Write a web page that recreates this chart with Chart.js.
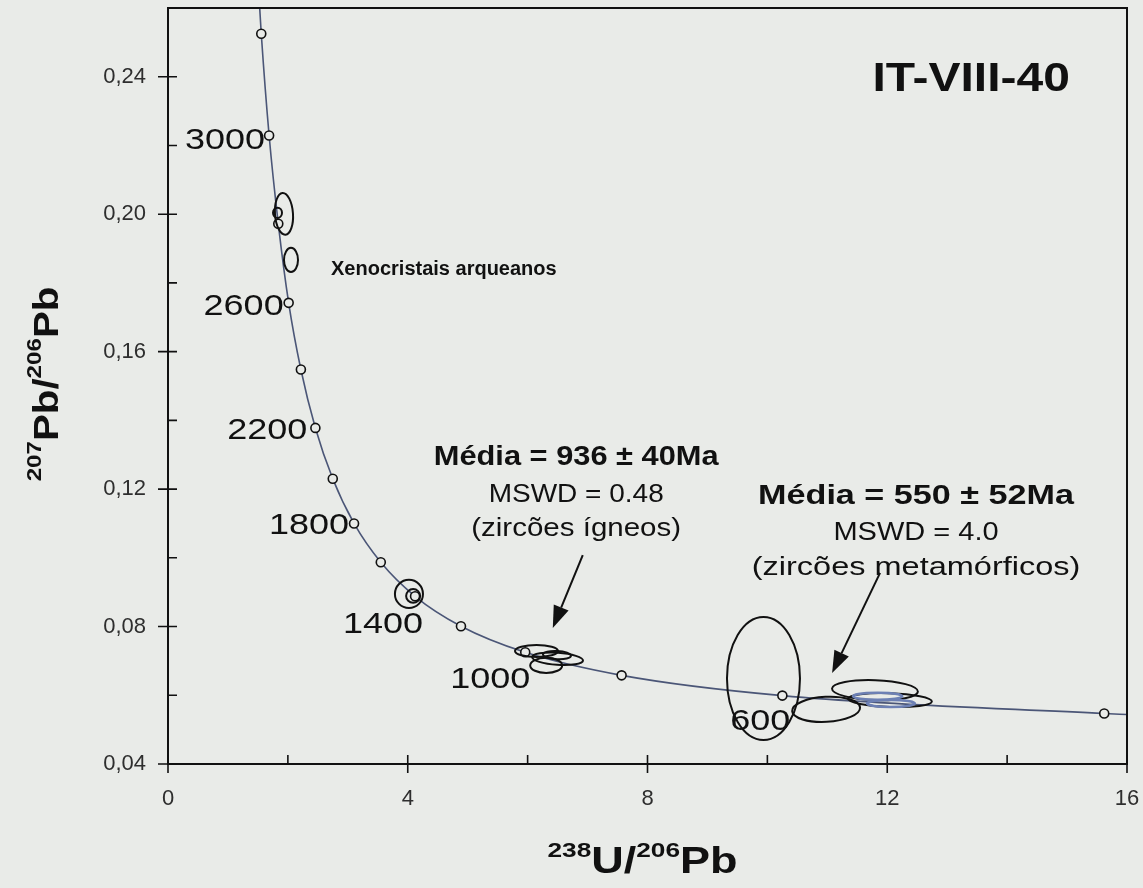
<!DOCTYPE html>
<html>
<head>
<meta charset="utf-8">
<script src="https://cdn.jsdelivr.net/npm/chart.js@4.4.1/dist/chart.umd.min.js"></script>
<style>
  html, body { margin: 0; padding: 0; background: #e9ebe8; }
  canvas { display: block; }
</style>
</head>
<body>
<canvas id="concordia" width="1143" height="888"></canvas>
<script>
// Concordia trace, 238U/206Pb vs 207Pb/206Pb
const curveX = [1.53, 1.556, 1.687, 1.84, 2.013, 2.217, 2.459, 2.749, 3.104, 3.55, 4.122, 4.888, 5.96, 7.568, 10.25, 15.62, 16.0];
const curveY = [0.2600, 0.2525, 0.2229, 0.1972, 0.1742, 0.1548, 0.1378, 0.1230, 0.1100, 0.0987, 0.0888, 0.0801, 0.0725, 0.0658, 0.0599, 0.0547, 0.0544];

// Age ticks on the concordia (Ma)
const markerAges = [3200, 3000, 2800, 2600, 2400, 2200, 2000, 1800, 1600, 1400, 1200, 1000, 800, 600, 400];
const markerX = [1.556, 1.687, 1.84, 2.013, 2.217, 2.459, 2.749, 3.104, 3.55, 4.122, 4.888, 5.96, 7.568, 10.25, 15.62];
const markerY = [0.2525, 0.2229, 0.1972, 0.1742, 0.1548, 0.1378, 0.1230, 0.1100, 0.0987, 0.0888, 0.0801, 0.0725, 0.0658, 0.0599, 0.0547];

// Ages that get a printed label
const labeledAges = [3000, 2600, 2200, 1800, 1400, 1000, 600];

// Error ellipses: centre, half-axes (data units), tilt (deg)
const ellipseX  = [1.935, 1.827, 2.052, 4.02, 4.09, 6.148, 6.50, 6.31, 6.49, 9.935, 10.98, 11.795, 12.045, 11.84, 12.06];
const ellipseY  = [0.2001, 0.2004, 0.1867, 0.0895, 0.0889, 0.0729, 0.0706, 0.0687, 0.0717, 0.0649, 0.0559, 0.0615, 0.0586, 0.0597, 0.0576];
const ellipseRx = [0.15, 0.075, 0.117, 0.234, 0.117, 0.359, 0.425, 0.267, 0.234, 0.609, 0.567, 0.717, 0.70, 0.41, 0.40];
const ellipseRy = [0.0061, 0.0015, 0.0035, 0.0041, 0.0020, 0.00175, 0.00175, 0.0022, 0.0012, 0.0179, 0.00364, 0.0029, 0.0020, 0.0010, 0.0010];
const ellipseRot = [-4, 0, 0, 0, 0, 0, 4, 0, 3, 0, -3, 2, 2, 0, 0];
const ellipseKind = ['k', 'k', 'k', 'k', 'k', 'k', 'k', 'k', 'k', 'k', 'k', 'k', 'k', 'b', 'b'];

const BG = '#e9ebe8';
const INK = '#111';
const SANS = '"Liberation Sans", Arial, Helvetica, sans-serif';

// label placement relative to its marker: right edge / baseline offset (px)
const ageLabelOffsets = {
  3000: [-4, 14], 2600: [-5, 12], 2200: [-8, 11], 1800: [-5, 11],
  1400: [8, 37], 1000: [5, 36], 600: [8, 34]
};

function stretchText(ctx, str, x, y, font, align, sx) {
  ctx.save();
  ctx.font = font;
  ctx.textAlign = 'left';
  ctx.textBaseline = 'alphabetic';
  const w = ctx.measureText(str).width * sx;
  const x0 = align === 'center' ? x - w / 2 : align === 'right' ? x - w : x;
  ctx.translate(x0, y);
  ctx.scale(sx, 1);
  ctx.fillText(str, 0, 0);
  ctx.restore();
  return w;
}

// pieces: [text, isSuperscript]; drawn centred on (0,0) baseline
function isotopeLabel(ctx, pieces, mainFont, supFont, sx, raise) {
  const widths = pieces.map(p => {
    ctx.font = p[1] ? supFont : mainFont;
    return ctx.measureText(p[0]).width * sx;
  });
  let x = -widths.reduce((a, b) => a + b, 0) / 2;
  pieces.forEach((p, i) => {
    stretchText(ctx, p[0], x, p[1] ? -raise : 0, p[1] ? supFont : mainFont, 'left', sx);
    x += widths[i];
  });
}

function arrow(ctx, x1, y1, x2, y2) {
  const a = Math.atan2(y2 - y1, x2 - x1);
  const len = 22, half = 8;
  const bx = x2 - len * Math.cos(a), by = y2 - len * Math.sin(a);
  ctx.beginPath();
  ctx.moveTo(x1, y1);
  ctx.lineTo(bx, by);
  ctx.stroke();
  ctx.beginPath();
  ctx.moveTo(x2, y2);
  ctx.lineTo(bx + half * Math.sin(a), by - half * Math.cos(a));
  ctx.lineTo(bx - half * Math.sin(a), by + half * Math.cos(a));
  ctx.closePath();
  ctx.fill();
}

const overlay = {
  id: 'overlay',
  afterDatasetsDraw(chart) {
    const { ctx, scales: { x, y } } = chart;
    const pxPerX = Math.abs(x.getPixelForValue(1) - x.getPixelForValue(0));
    const pxPerY = Math.abs(y.getPixelForValue(0.05) - y.getPixelForValue(0.04)) * 100;
    ctx.save();
    ellipseX.forEach((ex, i) => {
      ctx.beginPath();
      ctx.ellipse(x.getPixelForValue(ex), y.getPixelForValue(ellipseY[i]),
        ellipseRx[i] * pxPerX, ellipseRy[i] * pxPerY, ellipseRot[i] * Math.PI / 180, 0, Math.PI * 2);
      ctx.strokeStyle = ellipseKind[i] === 'b' ? '#6d80b4' : INK;
      ctx.lineWidth = ellipseKind[i] === 'b' ? 2.5 : 2;
      ctx.stroke();
    });
    ctx.restore();
  },
  afterDraw(chart) {
    const { ctx, chartArea: area, scales: { x, y } } = chart;
    const px = v => x.getPixelForValue(v);
    const py = v => y.getPixelForValue(v);
    ctx.save();

    // frame
    ctx.strokeStyle = INK;
    ctx.lineWidth = 2;
    ctx.strokeRect(area.left, area.top, area.right - area.left, area.bottom - area.top);

    // tick marks: majors cross the axis, minors point inward
    ctx.lineWidth = 1.6;
    ctx.beginPath();
    x.ticks.forEach(t => {
      const p = px(t.value);
      const major = Math.round(t.value) % 4 === 0;
      ctx.moveTo(p, area.bottom - 9);
      ctx.lineTo(p, major ? area.bottom + 9 : area.bottom);
    });
    y.ticks.forEach(t => {
      const p = py(t.value);
      const major = Math.round(t.value * 100) % 4 === 0;
      ctx.moveTo(major ? area.left - 10 : area.left, p);
      ctx.lineTo(area.left + 9, p);
    });
    ctx.stroke();

    ctx.fillStyle = INK;

    // age labels beside the concordia markers
    labeledAges.forEach(age => {
      const i = markerAges.indexOf(age);
      const [dx, dy] = ageLabelOffsets[age];
      stretchText(ctx, String(age), px(markerX[i]) + dx, py(markerY[i]) + dy, '30px ' + SANS, 'right', 1.2);
    });

    // annotations
    stretchText(ctx, 'IT-VIII-40', px(13.40), py(0.2359), 'bold 40px ' + SANS, 'center', 1.2);
    stretchText(ctx, 'Xenocristais arqueanos', px(2.72), py(0.1824), 'bold 20px ' + SANS, 'left', 1.0);

    stretchText(ctx, 'Média = 936 ± 40Ma', px(6.81), py(0.1270), 'bold 28px ' + SANS, 'center', 1.1);
    stretchText(ctx, 'MSWD = 0.48', px(6.81), py(0.1163), '25px ' + SANS, 'center', 1.12);
    stretchText(ctx, '(zircões ígneos)', px(6.81), py(0.1064), '25px ' + SANS, 'center', 1.18);

    stretchText(ctx, 'Média = 550 ± 52Ma', px(12.48), py(0.1157), 'bold 28px ' + SANS, 'center', 1.22);
    stretchText(ctx, 'MSWD = 4.0', px(12.48), py(0.1052), '25px ' + SANS, 'center', 1.16);
    stretchText(ctx, '(zircões metamórficos)', px(12.48), py(0.0950), '25px ' + SANS, 'center', 1.3);

    ctx.lineWidth = 2;
    arrow(ctx, px(6.92), py(0.1008), px(6.42), py(0.0796));
    arrow(ctx, px(11.88), py(0.0956), px(11.08), py(0.0665));

    // axis titles with isotope superscripts
    const xTitle = [['238', true], ['U/', false], ['206', true], ['Pb', false]];
    ctx.save();
    ctx.translate((area.left + area.right) / 2 - 5, 873);
    isotopeLabel(ctx, xTitle, 'bold 36px ' + SANS, 'bold 21px ' + SANS, 1.25, 16);
    ctx.restore();

    const yTitle = [['207', true], ['Pb/', false], ['206', true], ['Pb', false]];
    ctx.save();
    ctx.translate(58, (area.top + area.bottom) / 2 - 2);
    ctx.rotate(-Math.PI / 2);
    isotopeLabel(ctx, yTitle, 'bold 35px ' + SANS, 'bold 21px ' + SANS, 1.15, 17);
    ctx.restore();

    ctx.restore();
  }
};

const ctx = document.getElementById('concordia').getContext('2d');
new Chart(ctx, {
  type: 'scatter',
  data: {
    datasets: [
      {
        label: 'Idades',
        data: markerX.map((v, i) => ({ x: v, y: markerY[i] })),
        showLine: false,
        pointStyle: 'circle',
        pointRadius: 4.5,
        borderWidth: 1.6,
        borderColor: INK,
        backgroundColor: BG
      },
      {
        label: 'Concórdia',
        data: curveX.map((v, i) => ({ x: v, y: curveY[i] })),
        showLine: true,
        pointRadius: 0,
        borderColor: '#4b5677',
        borderWidth: 1.6,
        cubicInterpolationMode: 'monotone'
      }
    ]
  },
  options: {
    responsive: false,
    animation: false,
    layout: { padding: { top: 8, right: 16, left: 0, bottom: 0 } },
    plugins: { legend: { display: false }, tooltip: { enabled: false } },
    scales: {
      x: {
        type: 'linear',
        min: 0,
        max: 16,
        afterFit(s) {
          s.height = 124;
          s.paddingLeft = 0;
          s.paddingRight = 0;
        },
        grid: { drawOnChartArea: false, drawTicks: false },
        border: { display: false },
        ticks: {
          stepSize: 2,
          autoSkip: false,
          maxRotation: 0,
          padding: 22,
          color: '#2e2e2e',
          font: { family: SANS, size: 22 },
          callback: v => (Math.round(v) % 4 === 0 ? String(Math.round(v)) : '')
        }
      },
      y: {
        type: 'linear',
        min: 0.04,
        max: 0.26,
        afterFit(s) {
          s.width = 168;
          s.paddingTop = 0;
          s.paddingBottom = 0;
        },
        grid: { drawOnChartArea: false, drawTicks: false },
        border: { display: false },
        ticks: {
          stepSize: 0.02,
          autoSkip: false,
          padding: 22,
          color: '#2e2e2e',
          font: { family: SANS, size: 22 },
          callback: v => {
            const c = Math.round(v * 100);
            return c % 4 === 0 && c <= 24 ? v.toFixed(2).replace('.', ',') : '';
          }
        }
      }
    }
  },
  plugins: [overlay]
});
</script>
</body>
</html>
